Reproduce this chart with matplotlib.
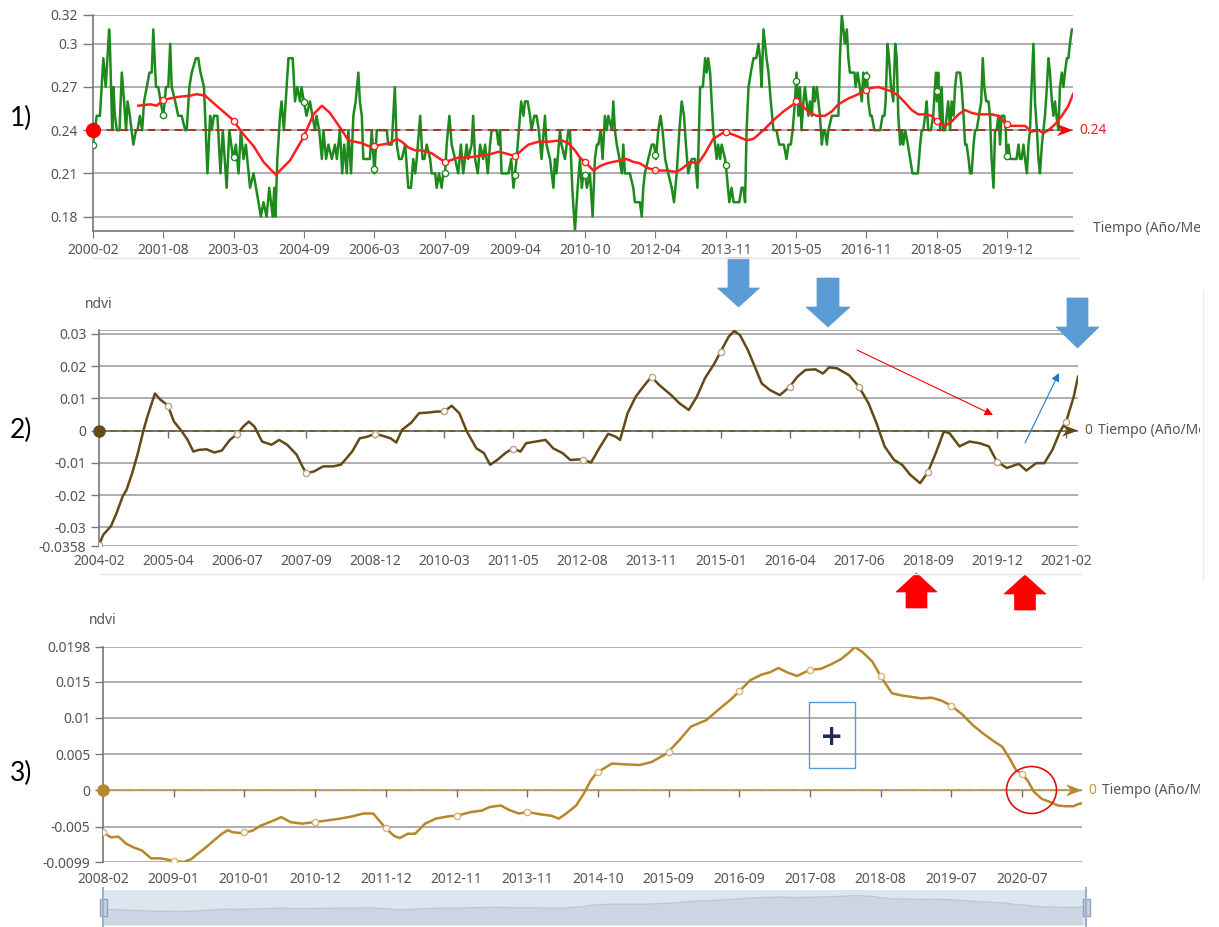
import numpy as np
import matplotlib
matplotlib.use('Agg')
import matplotlib.pyplot as plt
from matplotlib.patches import Polygon, Rectangle, Ellipse

plt.rcParams['font.family'] = ['Noto Sans', 'DejaVu Sans']

# ---------------- panel 1: ndvi mensual (meses desde 2000-02) ----------------
mes_verde = [0.0, 0.96, 1.8, 2.7, 3.3, 4.2, 4.4, 5.0, 5.3, 5.7, 6.2, 6.9, 7.5, 8.1, 8.6, 9.0, 9.6, 10.5,
             11.2, 11.6, 12.2, 12.8, 13.3, 14.0, 14.7, 15.3, 15.7, 16.4, 17.0, 17.6, 18.3, 19.0, 19.6,
             20.1, 20.5, 21.4, 22.2, 23.1, 24.0, 24.4, 25.1, 25.7, 26.8, 27.4, 28.0, 28.9, 29.8, 30.5,
             30.9, 31.5, 32.4, 33.2, 33.8, 34.8, 35.5, 36.5, 37.2, 37.9, 38.5, 39.2, 39.8, 40.9, 41.8,
             43.1, 43.7, 44.4, 45.2, 45.9, 46.8, 47.2, 47.5, 48.0, 48.7, 49.1, 49.7, 50.9, 52.0, 52.6,
             53.2, 53.9, 54.3, 54.9, 55.6, 56.5, 57.8, 58.2, 58.9, 59.6, 60.0, 60.7, 61.3, 62.2, 63.0,
             63.5, 64.3, 64.9, 65.4, 66.1, 66.5, 67.2, 67.8, 68.4, 69.1, 69.5, 70.0, 70.4, 71.3, 72.1,
             72.6, 73.3, 73.9, 74.7, 75.6, 76.5, 76.9, 77.8, 78.2, 78.6, 79.1, 79.7, 80.4, 81.3, 82.1,
             82.8, 83.4, 83.9, 84.3, 85.2, 85.8, 86.3, 86.9, 87.8, 88.2, 89.1, 89.5, 90.1, 90.8, 91.2,
             91.7, 92.1, 92.8, 93.4, 94.3, 95.1, 95.8, 96.4, 97.3, 97.7, 98.6, 99.0, 99.5, 100.2, 100.8,
             101.6, 102.1, 102.8, 103.4, 103.8, 104.5, 105.1, 105.6, 106.0, 106.4, 107.3, 108.2, 108.9,
             109.5, 109.9, 110.3, 110.9, 111.5, 112.1, 112.5, 113.2, 113.8, 114.2, 114.9, 115.5, 116.1,
             116.8, 117.7, 118.1, 119.0, 119.9, 120.3, 120.7, 121.6, 122.0, 122.9, 123.8, 124.2, 124.8,
             125.5, 126.2, 126.8, 127.3, 127.7, 128.1, 128.6, 129.4, 130.1, 130.7, 131.2, 131.6, 132.2,
             132.7, 133.3, 133.8, 134.2, 135.1, 135.5, 135.9, 136.4, 137.1, 137.7, 138.1, 138.5, 139.0,
             139.8, 140.7, 141.1, 141.6, 142.4, 142.9, 143.3, 143.7, 144.6, 145.5, 146.1, 146.6, 147.2,
             147.8, 148.3, 149.0, 149.8, 150.7, 151.3, 152.0, 152.7, 153.3, 153.9, 154.4, 155.0, 155.9,
             156.8, 157.4, 158.1, 158.8, 159.4, 159.8, 160.2, 160.7, 161.1, 161.5, 162.0, 162.4, 162.8,
             163.3, 163.7, 164.6, 165.0, 165.7, 166.3, 166.8, 167.2, 167.6, 168.3, 168.9, 169.4, 169.8,
             170.2, 170.7, 171.3, 172.0, 172.7, 173.3, 173.7, 174.1, 174.6, 175.0, 175.4, 175.9, 176.5,
             177.2, 177.6, 178.0, 178.7, 179.3, 179.9, 180.6, 181.1, 181.7, 182.2, 182.8, 183.2, 183.7,
             184.1, 184.5, 185.0, 185.4, 185.8, 186.3, 186.7, 187.2, 187.6, 188.0, 188.5, 188.9, 189.3,
             189.8, 190.2, 190.6, 191.1, 191.5, 192.4, 193.2, 194.1, 194.5, 195.0, 195.4, 195.8, 196.3,
             196.7, 197.1, 197.6, 198.3, 198.6, 199.1, 199.7, 200.2, 200.6, 201.0, 201.5, 201.9, 202.4,
             202.8, 203.5, 204.1, 205.0, 205.6, 206.1, 206.4, 206.9, 207.3, 207.8, 208.4, 208.9, 209.3,
             209.7, 210.2, 210.6, 211.0, 211.5, 212.2, 212.8, 213.4, 213.9, 214.2, 214.8, 215.4, 215.8,
             216.2, 216.7, 217.1, 217.5, 218.2, 218.8, 219.5, 219.8, 220.1, 220.6, 221.0, 221.4, 221.9,
             222.3, 222.7, 223.2, 223.6, 224.1, 224.5, 224.9, 225.4, 225.8, 226.2, 226.7, 227.1, 227.5,
             228.0, 228.4, 228.8, 229.3, 229.7, 230.1, 230.7, 231.3, 231.7, 232.1, 232.6, 233.2, 233.6,
             234.0, 234.5, 234.9, 235.3, 235.8, 236.2, 236.6, 237.3, 237.7, 237.9, 238.4, 238.8, 239.2,
             239.7, 240.1, 240.5, 241.0, 241.4, 241.8, 242.3, 242.7, 243.2, 243.6, 244.0, 244.4, 244.9,
             245.3, 245.8, 246.2, 246.6, 247.1, 247.5, 247.9, 248.4, 248.8, 249.2, 249.7, 250.1, 250.5,
             250.9, 251.4, 251.8, 252.3, 252.7, 253.1, 253.6, 254.0, 254.4, 254.9, 255.3]
ndvi_verde = [.23, .25, .25, .29, .27, .31, .30, .24, .27, .25, .24, .24, .28, .26, .24, .26, .25, .23,
              .24, .24, .25, .24, .26, .27, .28, .28, .31, .27, .27, .26, .25, .27, .27,
              .30, .27, .26, .25, .25, .24, .24, .27, .28, .29, .29, .28, .27, .21, .25,
              .24, .25, .25, .21, .24, .20, .24, .22, .23, .21, .24, .22, .23, .20, .21,
              .19, .18, .19, .18, .20, .18, .20, .18, .22, .25, .26, .24, .29, .29, .26,
              .27, .26, .27, .26, .25, .26, .24, .25, .24, .22, .24, .22, .23, .22, .23,
              .22, .24, .21, .23, .21, .24, .21, .25, .26, .28, .26, .25, .22, .22, .22,
              .24, .21, .24, .24, .24, .24, .23, .23, .25, .27, .23, .22, .22, .23, .20,
              .20, .22, .21, .22, .25, .22, .22, .23, .22, .21, .21, .20, .21, .20, .21,
              .21, .23, .25, .23, .22, .21, .23, .21, .23, .22, .23, .25, .22, .21, .23,
              .22, .23, .21, .23, .24, .24, .24, .23, .24, .21, .21, .21, .22,
              .20, .21, .22, .24, .26, .25, .26, .26, .25, .24, .25, .25, .24,
              .22, .25, .23, .22, .20, .22, .21, .24, .23, .22, .24, .24, .20,
              .17, .20, .22, .20, .21, .21, .20, .21, .18, .22, .23, .23, .24,
              .22, .25, .24, .25, .24, .26, .24, .23, .22, .21, .23, .21, .21,
              .21, .20, .19, .19, .19, .18, .20, .21, .22, .23, .23, .22, .24,
              .25, .24, .22, .21, .20, .19, .21, .24, .26, .25, .23, .21, .22,
              .22, .20, .27, .27, .29, .28, .29, .28, .26, .24, .23, .22, .23,
              .22, .23, .22, .21, .19, .20, .19, .19, .19, .19, .20, .20, .19,
              .24, .27, .28, .29, .29, .30, .29, .27, .31, .30, .29, .28, .26,
              .24, .24, .24, .23, .23, .23, .22, .23, .23, .24, .26, .28, .25,
              .27, .24, .26, .27, .26, .25, .26, .25, .27, .26, .27, .26, .25,
              .23, .24, .24, .23, .24, .25, .25, .25, .29, .32, .31, .30, .31,
              .29, .28, .28, .28, .27, .28, .27, .26, .28, .27, .28, .26, .25,
              .25, .24, .24, .24, .25, .25, .26, .30, .29, .27, .26, .30, .29,
              .25, .23, .24, .23, .24, .23, .22, .21, .21, .21, .21, .23, .24,
              .24, .25, .26, .24, .24, .25, .28, .26, .28, .24, .27, .24, .24,
              .25, .26, .24, .26, .25, .27, .28, .28, .28, .27, .25, .23, .23,
              .22, .21, .21, .23, .24, .24, .25, .26, .29, .27, .26, .26, .25,
              .22, .20, .24, .24, .25, .23, .25, .25, .24, .22, .23, .22, .22,
              .22, .22, .22, .23, .22, .22, .23, .22, .21, .23, .24, .27, .30,
              .26, .24, .22, .21, .23, .24, .25, .27, .29, .28, .26, .25, .26,
              .25, .24, .27, .28, .27, .28, .29, .29, .30, .31, .31]
mes_media = [11.8, 14.9, 16.6, 18.3, 21.8, 25.3, 27.0, 29.2, 31.3, 33.9, 36.5, 39.2, 41.8, 44.4, 46.5,
             47.7, 48.7, 51.3, 54.8, 57.4, 59.6, 61.7, 63.0, 64.8, 66.5, 68.2, 70.0, 71.7, 73.4, 75.2,
             77.3, 79.1, 80.4, 82.1, 83.9, 85.6, 88.2, 90.4, 91.7, 93.0, 95.1, 97.7, 100.3, 103.0, 105.6,
             107.3, 109.9, 111.6, 113.4, 116.0, 118.6, 122.0, 123.8, 125.5, 126.8, 128.1, 130.3, 132.0,
             133.8, 135.5, 137.2, 139.0, 140.7, 142.4, 144.2, 146.6, 149.4, 152.0, 153.7, 155.5, 157.6,
             159.4, 161.5, 164.6, 167.6, 170.2, 172.0, 174.6, 177.2, 179.8, 182.4, 183.2, 185.0, 186.7,
             188.5, 190.6, 192.4, 194.1, 196.7, 199.3, 201.9, 204.5, 206.7, 208.0, 209.7, 211.5, 213.2,
             214.9, 216.7, 218.4, 220.1, 221.9, 223.6, 225.4, 227.1, 228.8, 230.6, 232.3, 234.0, 235.8,
             237.5, 239.2, 241.0, 242.7, 244.4, 246.2, 247.5, 248.8, 250.5, 252.3, 254.0, 255.2]
ndvi_media = [.257, .258, .257, .261, .263, .264, .265, .264, .259, .253, .247, .237, .229, .218, .212,
              .209, .212, .219, .235, .251, .257, .252, .247, .240, .233, .232, .231, .229, .229, .230,
              .231, .234, .232, .228, .226, .226, .224, .220, .218, .219, .221, .221, .222, .223, .225,
              .224, .222, .226, .230, .232, .232, .233, .231, .226, .221, .218, .212, .215,
              .217, .218, .219, .220, .218, .217, .214, .212, .212, .211, .214, .218, .217,
              .224, .234, .239, .236, .233, .234, .240, .247, .253, .258, .261, .256, .252,
              .250, .250, .253, .258, .262, .265, .269, .270, .268, .267, .264, .259, .254,
              .251, .251, .250, .245, .243, .246, .251, .254, .252, .251, .251, .251, .250,
              .245, .243, .243, .243, .239, .240, .238, .240, .244, .250, .257, .265]
etiquetas_1 = ['2000-02', '2001-08', '2003-03', '2004-09', '2006-03', '2007-09', '2009-04',
               '2010-10', '2012-04', '2013-11', '2015-05', '2016-11', '2018-05', '2019-12']
ref_1 = 0.24

# ---------------- panel 2 (meses desde 2004-02) ----------------
mes_2 = [0, 0.9, 2.5, 3.7, 5.0, 5.8, 7.0, 8.2, 9.4, 10.2, 11.8, 13.0, 14.5, 15.8, 17.5, 18.7, 19.9,
         21.0, 22.7, 24.3, 25.9, 27.6, 29.2, 30.4, 31.6, 32.8, 34.4, 36.4, 38.0, 39.7, 41.7, 42.9, 43.7,
         45.3, 47.3, 49.4, 51.0, 52.2, 53.4, 55.0, 56.6, 58.2, 59.8, 61.5, 62.7, 63.9, 65.9, 67.5, 69.5,
         71.2, 72.8, 74.4, 76.0, 77.6, 79.6, 81.2, 82.5, 84.0, 85.7, 87.3, 88.9, 90.1, 92.1, 94.2, 95.8,
         97.8, 99.4, 101.8, 103.8, 105.5, 107.4, 109.0, 109.9, 111.5, 113.2, 114.8, 116.5, 118.2,
         120.7, 122.4, 124.4, 126.1, 127.8, 129.8, 131.1, 132.8, 134.0, 135.2, 136.9, 138.2, 139.8,
         141.5, 143.6, 145.7, 147.3, 149.0, 151.1, 152.7, 154.0, 155.7, 158.2, 160.3, 162.3, 164.0,
         165.7, 167.7, 169.4, 171.1, 173.2, 174.8, 176.5, 178.2, 179.4, 181.5, 183.6, 185.7, 187.7,
         189.4, 191.5, 194.0, 195.6, 197.7, 199.4, 201.1, 202.7, 204.0, 205.6, 206.5]
ndvi_2 = [-.0356, -.0323, -.0297, -.0256, -.0204, -.0184, -.0132, -.0070, .0002, .0043, .0115, .0095,
          .0079, .0028, -.0003, -.0029, -.0065, -.0060, -.0058, -.0068, -.0062, -.0029, -.0010, .0012,
          .0028, .0012, -.0034, -.0044, -.0029, -.0044, -.0075, -.0111, -.0132, -.0127, -.0111, -.0111,
          -.0106, -.0086, -.0065, -.0024, -.0019, -.0010, -.0016, -.0024, -.0037, .0002, .0025, .0054,
          .0056, .0059, .0059, .0077, .0054, -.0003, -.0055, -.0070, -.0106, -.0091, -.0070, -.0055,
          -.0065, -.0039, -.0034, -.0029, -.0055, -.0070, -.0091, -.0089, -.0099, -.0055, -.0010,
          -.0019, -.0029, .0054, .0105, .0136, .0167, .0141, .0110, .0085, .0064, .0105, .0162, .0208,
          .0244, .0291, .0309, .0296, .0249, .0203, .0146, .0126, .0110, .0136, .0167, .0188, .0190,
          .0177, .0196, .0193, .0172, .0136, .0085, .0023, -.0049, -.0091, -.0106, -.0137, -.0163,
          -.0130, -.0070, -.0003, -.0008, -.0049, -.0034, -.0039, -.0049, -.0096, -.0116, -.0103,
          -.0124, -.0101, -.0101, -.0060, -.0003, .0028, .0105, .0167]
etiquetas_2 = ['2004-02', '2005-04', '2006-07', '2007-09', '2008-12', '2010-03', '2011-05', '2012-08',
               '2013-11', '2015-01', '2016-04', '2017-06', '2018-09', '2019-12', '2021-02']

# ---------------- panel 3 (meses desde 2008-02) ----------------
mes_3 = [0, 1.3, 2.5, 3.8, 5.0, 6.3, 7.8, 9.4, 10.6, 11.8, 13.1, 14.3, 15.6, 16.8, 18.0, 19.3, 20.2,
         21.1, 22.4, 24.2, 25.5, 27.3, 28.9, 30.4, 32.3, 34.2, 36.0, 38.5, 40.4, 42.2, 43.8, 45.0, 45.9,
         47.2, 48.1, 49.4, 50.6, 52.2, 54.0, 55.9, 57.4, 59.6, 61.4, 62.7, 64.5, 65.8, 67.4, 68.9, 70.8,
         72.6, 73.9, 75.1, 76.7, 77.9, 79.1, 80.0, 82.5, 84.4, 87.0, 88.9, 91.4, 93.4, 95.3, 97.8, 99.7,
         101.7, 103.3, 104.9, 106.8, 108.1, 109.5, 110.9, 112.5, 114.5, 116.4, 118.0, 119.6, 120.9,
         121.9, 123.1, 124.7, 126.1, 127.9, 129.5, 131.1, 132.7, 134.3, 135.9, 137.5, 139.4, 141.0,
         142.6, 144.2, 145.8, 147.1, 148.0, 149.0, 150.0, 150.9, 152.2, 153.5, 154.8, 156.0, 157.3,
         158.1, 158.7]
ndvi_3 = [-.0058, -.0065, -.0064, -.0074, -.0079, -.0083, -.0094, -.0094, -.0096, -.0098, -.0099, -.0095,
          -.0086, -.0078, -.0069, -.0060, -.0055, -.0058, -.0059, -.0056, -.0049, -.0043, -.0037, -.0044,
          -.0046, -.0044, -.0042, -.0039, -.0036, -.0032, -.0032, -.0044, -.0053, -.0063, -.0066, -.0060,
          -.0060, -.0046, -.0039, -.0036, -.0035, -.0030, -.0028, -.0023, -.0021, -.0027, -.0032, -.0030,
          -.0033, -.0035, -.0039, -.0032, -.0021, -.0005, .0014, .0024, .0037, .0036, .0035, .0039,
          .0051, .0069, .0088, .0097, .0111, .0125, .0138, .0152, .0160, .0163, .0169, .0163, .0158,
          .0166, .0168, .0174, .0181, .0190, .0198, .0191, .0178, .0157, .0134, .0131, .0129, .0127,
          .0128, .0124, .0117, .0104, .0090, .0079, .0069, .0060, .0042, .0028, .0023, .0012, -.0002,
          -.0012, -.0016, -.0021, -.0022, -.0022, -.0019, -.0018]
etiquetas_3 = ['2008-02', '2009-01', '2010-01', '2010-12', '2011-12', '2012-11', '2013-11', '2014-10',
               '2015-09', '2016-09', '2017-08', '2018-08', '2019-07', '2020-07']

W, H = 1219, 927
fig = plt.figure(figsize=(W / 100, H / 100), dpi=100)

GRIS_TXT = '#555555'
GRIS_GRID = '#a8a8a8'


def caja(x0, y0, x1, y1):
    return fig.add_axes([x0 / W, 1 - y1 / H, (x1 - x0) / W, (y1 - y0) / H])


def estilo(ax, yt, ylab, xt, xlab, pad_x):
    ax.set_yticks(yt)
    ax.set_yticklabels(ylab)
    ax.set_xticks(xt)
    ax.set_xticklabels(xlab)
    ax.tick_params(axis='y', length=6, width=1, color='#777777', labelcolor=GRIS_TXT,
                   labelsize=10, pad=3)
    ax.tick_params(axis='x', labelcolor=GRIS_TXT, labelsize=10, pad=pad_x)
    for y in yt:
        ax.axhline(y, color=GRIS_GRID, lw=1.3, zorder=0)
    for s in ['top', 'right']:
        ax.spines[s].set_visible(False)
    ax.spines['left'].set_color('#777777')
    ax.spines['left'].set_linewidth(1.2)


ov = fig.add_axes([0, 0, 1, 1], zorder=10)
ov.set_xlim(0, W)
ov.set_ylim(H, 0)
ov.axis('off')


def pix(ax, x, y):
    px, py = ax.transData.transform((x, y))
    return px, H - py


def punta(ax, x, y, color, largo=16, alto=6):
    px, py = pix(ax, x, y)
    ov.add_patch(Polygon([(px, py), (px - largo, py - alto), (px - largo * 0.7, py),
                          (px - largo, py + alto)], closed=True, fc=color, ec='none'))


def nombre_eje(x, y):
    # el nombre del eje queda cortado en el borde derecho, como en la captura
    t = ov.text(x, y, 'Tiempo (Año/Mes)', color=GRIS_TXT, fontsize=10, va='center', ha='left')
    t.set_clip_on(True)
    t.set_clip_path(Rectangle((0, 0), 1200, H, transform=ov.transData))


def flecha_bloque(xc, y_cola, y_base, y_punta, a_cuerpo, a_cabeza, color):
    pts = [(xc - a_cuerpo / 2, y_cola), (xc + a_cuerpo / 2, y_cola), (xc + a_cuerpo / 2, y_base),
           (xc + a_cabeza / 2, y_base), (xc, y_punta), (xc - a_cabeza / 2, y_base),
           (xc - a_cuerpo / 2, y_base)]
    ov.add_patch(Polygon(pts, closed=True, fc=color, ec=color, lw=0.5))


# ================= panel 1 =================
ax1 = caja(93, 15, 1073, 231)
ax1.set_xlim(0, 255.2)
ax1.set_ylim(0.17, 0.32)
ticks_1 = np.linspace(0, 238, len(etiquetas_1))
estilo(ax1, [0.18, 0.21, 0.24, 0.27, 0.30, 0.32], ['0.18', '0.21', '0.24', '0.27', '0.3', '0.32'],
       ticks_1, etiquetas_1, 4)
ax1.tick_params(axis='x', length=5, color='#777777')
ax1.tick_params(axis='y', length=7, pad=4)
ax1.spines['bottom'].set_color('#777777')
ax1.spines['bottom'].set_linewidth(1.2)
ax1.plot(mes_verde, ndvi_verde, color='#1e8a1e', lw=1.8, zorder=2)
ax1.plot(mes_media, ndvi_media, color='#ff1f1f', lw=1.8, zorder=3)
ax1.plot([0, 255.2], [ref_1, ref_1], ls=(0, (4, 3)), color='#b0302a', lw=1.4, zorder=4)
ax1.plot(ticks_1, np.interp(ticks_1, mes_verde, ndvi_verde), 'o', ms=4.5, mfc='white',
         mec='#1e8a1e', mew=1, zorder=5)
tk_media = ticks_1[ticks_1 >= mes_media[0]]
ax1.plot(tk_media, np.interp(tk_media, mes_media, ndvi_media), 'o', ms=4.5, mfc='white',
         mec='#ff1f1f', mew=1, zorder=5)
ax1.plot(0, ref_1, 'o', ms=10, color='#ff0000', clip_on=False, zorder=6)
punta(ax1, 255.2, ref_1, '#ff0000')
px, py = pix(ax1, 255.2, ref_1)
ov.text(px + 6, py, '0.24', color='#e02424', fontsize=10, va='center', ha='left')
nombre_eje(1093, 228)
ov.plot([93, 1078], [258, 258], color='#e2e2e2', lw=1)

# ================= panel 2 =================
ax2 = caja(99, 330, 1078, 546)
ax2.set_xlim(0, 206.5)
ax2.set_ylim(-0.0358, 0.0312)
ticks_2 = np.linspace(0, 204, len(etiquetas_2))
estilo(ax2, [-0.0358, -0.03, -0.02, -0.01, 0, 0.01, 0.02, 0.03],
       ['-0.0358', '-0.03', '-0.02', '-0.01', '0', '0.01', '0.02', '0.03'], ticks_2, etiquetas_2, 6)
ax2.tick_params(axis='x', length=0)
ax2.spines['bottom'].set_visible(False)
ax2.axhline(0.0312, color=GRIS_GRID, lw=1.3, zorder=0)
ax2.axhline(0, color='#6e6e6e', lw=1.2, zorder=1)
ax2.plot([0, 206.5], [0, 0], ls=(0, (4, 3)), color='#7a5c22', lw=1.2, zorder=2)
ax2.plot(ticks_2, np.zeros_like(ticks_2), ls='none', marker=3, ms=5, mew=1, color='#6e6e6e')
ax2.plot(mes_2, ndvi_2, color='#654a18', lw=1.8, zorder=3)
ax2.plot(ticks_2, np.interp(ticks_2, mes_2, ndvi_2), 'o', ms=4.5, mfc='white', mec='#b9a682',
         mew=1, zorder=4)
ax2.plot(0, 0, 'o', ms=8, color='#654a18', clip_on=False, zorder=5)
punta(ax2, 206.5, 0, '#654a18')
px, py = pix(ax2, 206.5, 0)
ov.text(px + 6, py, '0', color='#7a5c22', fontsize=10, va='center', ha='left')
nombre_eje(px + 20, py)
ov.text(99, 304, 'ndvi', color=GRIS_TXT, fontsize=10, va='center', ha='center')
ov.plot([100, 1081], [574, 574], color='#e2e2e2', lw=1)
ov.plot([1203, 1203], [290, 580], color='#ececec', lw=1)

# ================= panel 3 =================
ax3 = caja(103, 647, 1082, 862)
ax3.set_xlim(0, 158.7)
ax3.set_ylim(-0.0099, 0.0198)
ticks_3 = np.linspace(0, 149, len(etiquetas_3))
estilo(ax3, [-0.0099, -0.005, 0, 0.005, 0.01, 0.015, 0.0198],
       ['-0.0099', '-0.005', '0', '0.005', '0.01', '0.015', '0.0198'], ticks_3, etiquetas_3, 7)
ax3.tick_params(axis='x', length=0)
ax3.spines['bottom'].set_visible(False)
ax3.axhline(0, color='#a99a7a', lw=1.0, zorder=1)
ax3.plot([0, 158.7], [0, 0], ls=(0, (4, 3)), color='#c8963e', lw=1.2, zorder=2)
ax3.plot(ticks_3, np.zeros_like(ticks_3), ls='none', marker=3, ms=5, mew=1, color='#6e6e6e')
ax3.plot(mes_3, ndvi_3, color='#b8862b', lw=1.8, zorder=3)
ax3.plot(ticks_3, np.interp(ticks_3, mes_3, ndvi_3), 'o', ms=4.5, mfc='white', mec='#d4b57a',
         mew=1, zorder=4)
ax3.plot(0, 0, 'o', ms=8, color='#b8862b', clip_on=False, zorder=5)
punta(ax3, 158.7, 0, '#b8862b')
px, py = pix(ax3, 158.7, 0)
ov.text(px + 6, py, '0', color='#c8963e', fontsize=10, va='center', ha='left')
nombre_eje(px + 20, py)
ov.text(103, 621, 'ndvi', color=GRIS_TXT, fontsize=10, va='center', ha='center')

# barra de zoom (dataZoom)
axs = caja(103, 890, 1086, 925)
axs.set_xlim(0, 159.3)
axs.set_ylim(-0.035, 0.030)
axs.set_facecolor('#dde5ef')
axs.fill_between(mes_3, ndvi_3, -0.035, color='#ccd6e3', lw=0)
axs.plot(mes_3, ndvi_3, color='#bcc8d8', lw=1)
axs.set_xticks([])
axs.set_yticks([])
for s in axs.spines.values():
    s.set_visible(False)
for xh in (103, 1086):
    ov.plot([xh, xh], [888, 926], color='#9fb1c8', lw=1.5)
    ov.add_patch(Rectangle((xh - 3.5, 899), 7, 17, fc='#c6d1df', ec='#8fa3bd', lw=1))

# ================= anotaciones =================
for t, y in (('1)', 118), ('2)', 430), ('3)', 773)):
    ov.text(21, y, t, fontsize=19, family=['Lato', 'DejaVu Sans'], ha='center', va='center',
            color='black')

azul = '#5b9bd5'
flecha_bloque(738.5, 258, 288, 307, 21, 42, azul)
flecha_bloque(828, 278, 307, 327, 22, 44, azul)
flecha_bloque(1077.5, 298, 327, 348, 21, 43, azul)
flecha_bloque(916.5, 608, 592, 573, 21, 41, '#ff0000')
flecha_bloque(1025, 610, 594, 575, 21, 42, '#ff0000')

ov.annotate('', xy=(993, 415), xytext=(857, 350),
            arrowprops=dict(arrowstyle='-|>', color='#ff0000', lw=0.8, mutation_scale=12,
                            shrinkA=0, shrinkB=0))
ov.annotate('', xy=(1059, 373), xytext=(1025, 443),
            arrowprops=dict(arrowstyle='-|>', color='#1f7bc8', lw=0.8, mutation_scale=12,
                            shrinkA=0, shrinkB=0))

ov.add_patch(Rectangle((808.5, 701.7), 46, 66, fc='none', ec='#5b9bd5', lw=1))
ov.text(831.5, 737, '+', fontsize=20, fontweight='bold', color='#1f2d5a', ha='center',
        va='center', family='DejaVu Sans')
ov.add_patch(Ellipse((1031.5, 790), 50, 47, fc='none', ec='#e01010', lw=1.2))

fig.savefig('out.png', dpi=100)
